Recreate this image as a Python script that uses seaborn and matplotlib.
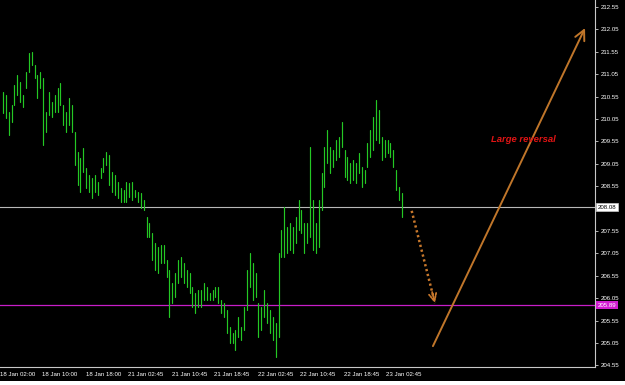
import numpy as np
import pandas as pd
import matplotlib
matplotlib.use("Agg")
import matplotlib.pyplot as plt
import seaborn as sns
from matplotlib.patches import Rectangle
from matplotlib.transforms import blended_transform_factory, ScaledTranslation

# ---------------- data ----------------
bar_high = [
    210.65, 210.59, 210.21, 210.36, 210.81, 211.03, 210.88, 210.59, 211.10, 211.52,
    211.55, 211.26, 211.03, 211.10, 210.97, 210.21, 210.65, 210.43, 210.59, 210.74,
    210.85, 210.36, 210.21, 210.52, 210.36, 209.76, 209.31, 209.18, 209.40, 208.96,
    208.80, 208.73, 208.80, 208.64, 208.96, 209.18, 209.31, 209.25, 208.87, 208.80,
    208.64, 208.51, 208.47, 208.64, 208.62, 208.64, 208.47, 208.42, 208.40, 208.24,
    207.86, 207.73, 207.51, 207.28, 207.19, 207.24, 207.24, 206.90, 206.68, 206.39,
    206.61, 206.90, 206.97, 206.84, 206.68, 206.61, 206.30, 206.17, 206.23, 206.23,
    206.39, 206.30, 206.17, 206.23, 206.30, 206.30, 206.01, 205.94, 205.79, 205.41,
    205.27, 205.34, 205.63, 205.41, 205.85, 206.68, 207.06, 206.84, 206.61, 205.94,
    205.85, 206.23, 205.94, 205.79, 205.63, 205.50, 207.06, 207.57, 208.09, 207.64,
    207.73, 207.64, 207.86, 208.24, 208.02, 207.73, 207.73, 209.42, 208.24, 207.73,
    208.24, 208.84, 209.42, 209.80, 209.42, 209.36, 209.58, 209.65, 209.98, 209.36,
    209.20, 209.07, 209.13, 209.07, 209.29, 208.98, 208.91, 209.51, 209.80, 210.09,
    210.47, 210.25, 209.65, 209.58, 209.58, 209.51, 209.36, 208.91, 208.53, 208.40,
]
bar_low = [
    210.18, 210.07, 209.69, 209.98, 210.36, 210.59, 210.43, 210.32, 210.74, 211.10,
    211.26, 210.97, 210.52, 210.74, 209.47, 209.76, 210.14, 210.09, 210.21, 210.21,
    210.36, 209.92, 209.76, 209.92, 209.76, 209.02, 208.58, 208.42, 208.87, 208.51,
    208.42, 208.29, 208.42, 208.35, 208.73, 208.87, 209.02, 208.58, 208.42, 208.35,
    208.29, 208.20, 208.20, 208.20, 208.31, 208.24, 208.31, 208.20, 208.06, 208.02,
    207.42, 207.42, 206.90, 206.68, 206.61, 206.84, 206.84, 206.52, 205.63, 205.94,
    206.08, 206.39, 206.52, 206.39, 206.30, 206.17, 205.85, 205.72, 205.85, 205.85,
    206.01, 206.01, 206.01, 206.01, 206.08, 205.94, 205.72, 205.63, 205.27, 205.05,
    205.05, 204.89, 205.18, 205.12, 205.34, 205.79, 206.30, 206.01, 206.08, 205.18,
    205.34, 205.63, 205.50, 205.27, 205.12, 204.74, 205.18, 206.97, 206.97, 207.06,
    207.13, 207.06, 207.28, 207.57, 207.51, 207.06, 207.28, 207.42, 207.13, 207.06,
    207.19, 208.02, 208.53, 209.07, 208.84, 208.98, 209.13, 209.20, 209.42, 208.75,
    208.69, 208.62, 208.69, 208.62, 208.84, 208.53, 208.62, 208.98, 209.20, 209.36,
    209.58, 209.51, 209.13, 209.20, 209.29, 209.20, 208.98, 208.47, 208.24, 207.86,
]
x_tick_labels = ["18 Jan 02:00", "18 Jan 10:00", "18 Jan 18:00", "21 Jan 02:45",
                 "21 Jan 10:45", "21 Jan 18:45", "22 Jan 02:45", "22 Jan 10:45",
                 "22 Jan 18:45", "23 Jan 02:45"]
y_ticks = [204.55, 205.05, 205.55, 206.05, 206.55, 207.05, 207.55, 208.55,
           209.05, 209.55, 210.05, 210.55, 211.05, 211.55, 212.05, 212.55]
level_upper = 208.08
level_lower = 205.89
dotted_arrow = [(142.4, 208.00), (150.5, 205.94)]   # (bar, price) start -> end
solid_arrow = [(149.8, 204.98), (202.8, 212.08)]
note_text = "Large reversal"
note_pos = (170.0, 209.60)

# ---------------- styling ----------------
sns.set_theme(style="dark", rc={
    "axes.facecolor": "black", "figure.facecolor": "black",
    "axes.grid": False, "text.color": "white",
    "xtick.color": "white", "ytick.color": "white",
})
plt.rcParams["font.family"] = ["Liberation Sans", "DejaVu Sans"]

W, H = 625, 385
fig = plt.figure(figsize=(W / 100, H / 100), dpi=100)
ax = fig.add_axes([-3 / W, 18 / H, 598 / W, 367 / H])

n = len(bar_high)
idx = np.arange(n)
df = pd.DataFrame({
    "bar": np.repeat(idx, 2),
    "price": np.column_stack([bar_low, bar_high]).ravel(),
})
sns.lineplot(data=df, x="bar", y="price", units="bar", estimator=None,
             color="#24c824", lw=0.85, ax=ax, legend=False)

# horizontal levels
ax.axhline(level_upper, color="#b8b8b8", lw=0.8, zorder=1)
ax.axhline(level_lower, color="#c81ec8", lw=0.9, zorder=1)

# dotted forecast arrow: dotted shaft + small head
(xs, ys), (xe, ye) = dotted_arrow
ax.plot([xs, xe], [ys, ye], color="#c8782c", lw=1.8,
        linestyle=(0, (0.9, 1.1)), dash_capstyle="butt", zorder=3)
ax.annotate("", xy=(xe, ye), xytext=(xe - 0.12 * (xe - xs), ye - 0.12 * (ye - ys)),
            arrowprops=dict(arrowstyle="->,head_length=0.45,head_width=0.22",
                            color="#c8782c", lw=1.3, linestyle=(0, (1.0, 0.8)),
                            shrinkA=0, shrinkB=0), zorder=3)
ax.annotate("", xy=solid_arrow[1], xytext=solid_arrow[0],
            arrowprops=dict(arrowstyle="->,head_length=0.6,head_width=0.3",
                            color="#c0762a", lw=1.4, shrinkA=0, shrinkB=0))
ax.text(note_pos[0], note_pos[1], note_text, color="#e01414", fontsize=6.8,
        fontweight="bold", fontstyle="italic", ha="left", va="center")

# axes limits (pixel layout: bar 0 at px 3, 2.87 px per bar)
PX0, DX = 3.0, 2.87
ax.set_xlim((-3 - PX0) / DX, (595 - PX0) / DX)
ax.set_ylim(204.514, 212.706)

ax.set_xticks([(-5 + 43 * k) / DX for k in range(len(x_tick_labels))])
ax.set_xticklabels(x_tick_labels)
ax.set_yticks(y_ticks)
ax.set_yticklabels([f"{v:.2f}" for v in y_ticks])
ax.yaxis.tick_right()
ax.set_xlabel("")
ax.set_ylabel("")
ax.tick_params(axis="y", direction="out", length=2.5, width=0.6, color="#d0d0d0",
               labelsize=4.4, pad=1.5, labelcolor="white")
ax.tick_params(axis="x", direction="out", length=2.5, width=0.6, color="#d0d0d0",
               labelsize=4.4, pad=1.2, labelcolor="white")
off = ScaledTranslation(1.5 / 100, 0, fig.dpi_scale_trans)
for lbl in ax.get_xticklabels():
    lbl.set_ha("left")
    lbl.set_transform(lbl.get_transform() + off)

for s in ("left", "top"):
    ax.spines[s].set_visible(False)
for s in ("right", "bottom"):
    ax.spines[s].set_color("#c8c8c8")
    ax.spines[s].set_linewidth(0.8)

# price labels on the right axis
tr = blended_transform_factory(ax.transAxes, ax.transData)
ax.text(1.004, level_upper, f"{level_upper:.2f}", transform=tr, fontsize=4.4,
        color="black", ha="left", va="center", clip_on=False,
        bbox=dict(boxstyle="square,pad=0.25", fc="white", ec="#c8c8c8", lw=0.5))
ax.text(1.004, level_lower, f"{level_lower:.2f}", transform=tr, fontsize=4.4,
        color="white", ha="left", va="center", clip_on=False,
        bbox=dict(boxstyle="square,pad=0.25", fc="#d21ed2", ec="none"))

# light strip at the bottom of the window
fig.patches.append(Rectangle((0, 0), 1, 4 / H, transform=fig.transFigure,
                             fc="white", ec="none", zorder=0))

fig.savefig("out.png", dpi=100, facecolor="black")
